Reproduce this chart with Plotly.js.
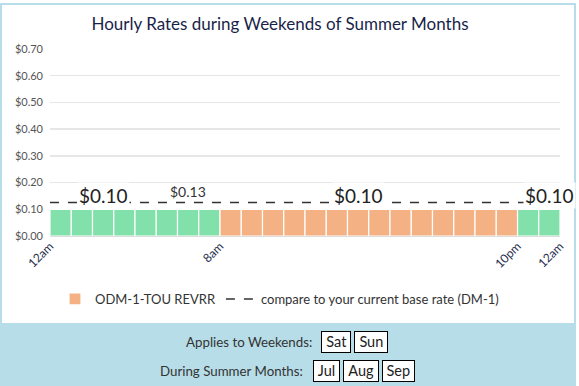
<!DOCTYPE html>
<html><head><meta charset="utf-8">
<script src="https://cdn.plot.ly/plotly-3.0.1.min.js"></script>
<style>
html,body{margin:0;padding:0;background:#fff;width:579px;height:386px;overflow:hidden;font-family:Lato,sans-serif;}
#box{position:absolute;left:0;top:3px;width:572px;height:330px;border:2px solid #b7dde8;box-sizing:content-box;}
#chart{position:absolute;left:0;top:0;width:579px;height:386px;}
#panel{position:absolute;left:0;top:323px;width:576px;height:63px;background:#b7dde8;color:#333;font-size:13.3px;}
.row{position:absolute;display:flex;align-items:center;}
.btn{display:inline-block;background:#fff;border:1px solid #000;padding:0 4px;height:20px;line-height:20px;margin-left:3px;color:#222;font-size:14.5px;}
</style></head>
<body>
<div id="box"></div>
<div id="chart"></div>
<div id="panel">
  <div class="row" style="left:186px;top:8px;"><span id="lab1"></span><span style="width:6px"></span></div>
  <div class="row" style="left:160px;top:37px;"><span id="lab2"></span><span style="width:7px"></span></div>
</div>
<script>
var hours = [0,1,2,3,4,5,6,7,8,9,10,11,12,13,14,15,16,17,18,19,20,21,22,23];
var rates = [0.10,0.10,0.10,0.10,0.10,0.10,0.10,0.10,0.10,0.10,0.10,0.10,0.10,0.10,0.10,0.10,0.10,0.10,0.10,0.10,0.10,0.10,0.10,0.10];
var periods = ['off','off','off','off','off','off','off','off','on','on','on','on','on','on','on','on','on','on','on','on','on','on','off','off'];
var baseRate = 0.125;
var baseLabel = '$0.13';
var tickVals = [0,8,22,24];
var tickText = ['12am','8am','10pm','12am'];
var segLabelX = [2.5,14.5,23.5];
var segLabelText = ['$0.10','$0.10','$0.10'];
var weekendDays = ['Sat','Sun'];
var summerMonths = ['Jul','Aug','Sep'];

var green = 'rgb(130,224,170)', orange = 'rgb(244,177,131)';
function pick(p){
  var x=[],y=[];
  hours.forEach(function(h,i){ if(periods[i]===p){x.push(h+0.5);y.push(rates[i]);} });
  return {x:x,y:y};
}
var off = pick('off'), on = pick('on');
var traces = [
  {type:'bar',x:off.x,y:off.y,width:1,marker:{color:green,line:{color:'#fff',width:1.2}},showlegend:false,hoverinfo:'skip'},
  {type:'bar',x:on.x,y:on.y,width:1,name:'ODM-1-TOU REVRR',marker:{color:orange,line:{color:'#fff',width:1.2}},hoverinfo:'skip'},
  {type:'scatter',mode:'lines',x:[0,24],y:[baseRate,baseRate],name:'compare to your current base rate (DM-1)',line:{color:'#333',dash:'dash',width:1.5},hoverinfo:'skip'}
];
var ann = segLabelX.map(function(x,i){
  return {x:x,y:0.15,xref:'x',yref:'y',text:segLabelText[i],showarrow:false,bgcolor:'#fff',font:{size:19,color:'#222',family:'Lato'},yanchor:'middle'};
});
ann.push({x:6.5,y:0.166,xref:'x',yref:'y',text:baseLabel,showarrow:false,font:{size:14,color:'#333',family:'Lato'},yanchor:'middle'});
var layout = {
  width:579,height:386,
  margin:{l:50,r:19,t:49,b:150},
  paper_bgcolor:'rgba(0,0,0,0)',plot_bgcolor:'rgba(0,0,0,0)',
  font:{family:'Lato',color:'#333'},
  title:{text:'Hourly Rates during Weekends of Summer Months',x:0.4836,xanchor:'center',y:0.938,yanchor:'middle',font:{size:17,color:'#1a1f4a',family:'Lato'}},
  barmode:'overlay',bargap:0,
  xaxis:{range:[0,24],tickvals:tickVals,ticktext:tickText,tickangle:-45,showgrid:false,zeroline:false,showline:false,ticks:'',tickfont:{size:12,color:'#1f2d4d'},fixedrange:true},
  yaxis:{range:[0,0.7],dtick:0.1,tickformat:'$.2f',gridcolor:'#e6e6e6',gridwidth:1.5,zeroline:true,zerolinecolor:'#ddd',zerolinewidth:1.5,tickfont:{size:11,color:'#555'},ticklabelstandoff:6,fixedrange:true},
  legend:{orientation:'h',x:0.45,xanchor:'center',y:-0.337,yanchor:'middle',font:{size:13,color:'#333'},itemwidth:30},
  annotations:ann
};
Plotly.newPlot('chart',traces,layout,{displayModeBar:false,staticPlot:true});
document.getElementById('lab1').textContent='Applies to Weekends:';
document.getElementById('lab2').textContent='During Summer Months:';
function addBtns(rowId,arr){
  var row=document.getElementById(rowId).parentNode;
  arr.forEach(function(t){var s=document.createElement('span');s.className='btn';s.textContent=t;row.appendChild(s);});
}
addBtns('lab1',weekendDays);
addBtns('lab2',summerMonths);
</script>
</body></html>
